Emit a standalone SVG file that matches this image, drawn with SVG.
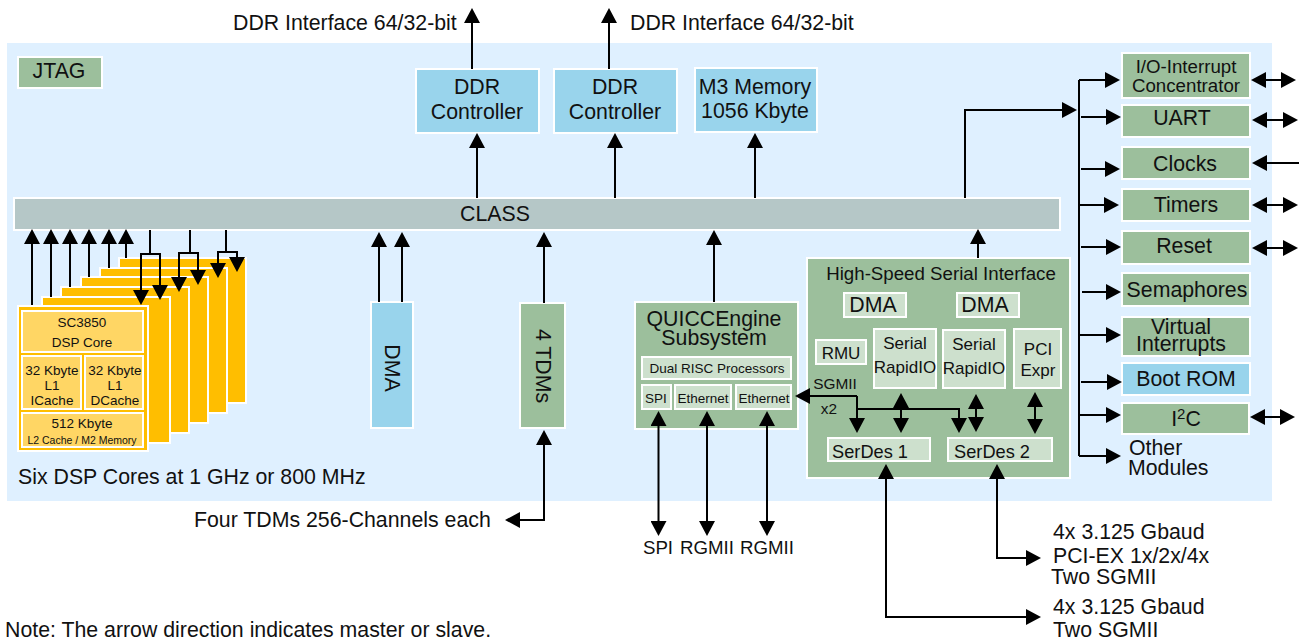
<svg xmlns="http://www.w3.org/2000/svg" width="1305" height="644" viewBox="0 0 1305 644">
<style>
text{font-family:"Liberation Sans",Arial,sans-serif;fill:#111;text-anchor:middle}
.l{text-anchor:start}
.g{fill:#9CBF9C;stroke:#fff;stroke-width:2}
.lg{fill:#CDE0CD;stroke:#fff;stroke-width:2}
.b{fill:#99D4EC;stroke:#fff;stroke-width:2}
.o{fill:#FFBE00;stroke:#fff;stroke-width:2}
.y{fill:#FFD664;stroke:#fff;stroke-width:2}
.c path{fill:none;stroke:#000;stroke-width:2}
.a{marker-end:url(#h)}
.d{marker-start:url(#h);marker-end:url(#h)}
.s21{font-size:21.3px}.s19{font-size:18.7px}.s18{font-size:18.2px}.s17{font-size:17px}.s15{font-size:15.4px}.s13{font-size:13.5px}.s10{font-size:10.5px}
</style>
<defs>
<marker id="h" markerUnits="userSpaceOnUse" markerWidth="15" markerHeight="16" viewBox="0 0 15 16" refX="12" refY="8" orient="auto-start-reverse"><path d="M0 0L15 8L0 16Z" fill="#000"/></marker>
</defs>
<rect x="7" y="43" width="1265" height="458" fill="#DFF0FF"/>

<g id="jtag"><rect class="g" x="18" y="57" width="84" height="31"/><text class="s21" x="59" y="78">JTAG</text></g>
<g id="ddr1"><rect class="b" x="416" y="69" width="123" height="64"/><text class="s21" x="477" y="94">DDR</text><text class="s21" x="477" y="119">Controller</text></g>
<g id="ddr2"><rect class="b" x="554" y="69" width="123" height="64"/><text class="s21" x="615" y="94">DDR</text><text class="s21" x="615" y="119">Controller</text></g>
<g id="m3"><rect class="b" x="695" y="68" width="122" height="64"/><text class="s21" x="755" y="94">M3 Memory</text><text class="s21" x="755" y="118">1056 Kbyte</text></g>
<g id="class"><rect x="14" y="198" width="1046" height="32" fill="#B5C7C7" stroke="#fff" stroke-width="2"/><text class="s21" x="495" y="221">CLASS</text></g>

<g id="dsp-cores">
<rect class="o" x="119" y="258" width="127" height="145"/>
<rect class="o" x="100" y="268" width="127" height="145"/>
<rect class="o" x="81" y="277" width="127" height="146"/>
<rect class="o" x="61" y="287" width="128" height="146"/>
<rect class="o" x="42" y="297" width="128" height="146"/>
<rect class="o" x="18" y="306" width="130" height="145"/>
<rect class="y" x="22" y="311" width="121" height="41"/>
<text class="s13" x="82" y="327">SC3850</text><text class="s13" x="82" y="347">DSP Core</text>
<rect class="y" x="22" y="356" width="59" height="53"/>
<text class="s13" x="52" y="375">32 Kbyte</text><text class="s13" x="52" y="390">L1</text><text class="s13" x="52" y="405">ICache</text>
<rect class="y" x="85" y="356" width="58" height="53"/>
<text class="s13" x="115" y="375">32 Kbyte</text><text class="s13" x="115" y="390">L1</text><text class="s13" x="115" y="405">DCache</text>
<rect class="y" x="22" y="413" width="121" height="34"/>
<text class="s13" x="82" y="428">512 Kbyte</text><text class="s10" x="82" y="444">L2 Cache / M2 Memory</text>
</g>
<text class="l s21" x="18" y="484">Six DSP Cores at 1 GHz or 800 MHz</text>

<g id="dma"><rect class="b" x="371" y="302" width="42" height="126"/><text class="s21" transform="translate(392 368) rotate(90)" y="7">DMA</text></g>
<g id="tdms"><rect class="g" x="520" y="303" width="45" height="125"/><text class="s21" transform="translate(543 366) rotate(90)" y="7">4 TDMs</text></g>

<g id="quicc"><rect class="g" x="635" y="302" width="163" height="127"/>
<text class="s21" x="714" y="326">QUICCEngine</text><text class="s21" x="714" y="345">Subsystem</text>
<rect class="lg" x="642" y="357" width="149" height="22"/><text class="s13" x="717" y="373">Dual RISC Processors</text>
<rect class="lg" x="642" y="385" width="29" height="24"/><text class="s13" x="656" y="403">SPI</text>
<rect class="lg" x="675" y="385" width="56" height="24"/><text class="s13" x="703" y="403">Ethernet</text>
<rect class="lg" x="736" y="385" width="55" height="24"/><text class="s13" x="764" y="403">Ethernet</text>
</g>

<g id="hssi"><rect class="g" x="807" y="258" width="263" height="220"/>
<text class="s19" x="941" y="280">High-Speed Serial Interface</text>
<rect class="lg" x="844" y="293" width="62" height="24"/><text class="s21" x="873" y="312">DMA</text>
<rect class="lg" x="957" y="293" width="62" height="24"/><text class="s21" x="985" y="312">DMA</text>
<rect class="lg" x="816" y="340" width="50" height="24"/><text class="s17" x="841" y="359">RMU</text>
<rect class="lg" x="874" y="329" width="62" height="59"/><text class="s17" x="905" y="349">Serial</text><text class="s17" x="905" y="373">RapidIO</text>
<rect class="lg" x="943" y="330" width="62" height="58"/><text class="s17" x="974" y="350">Serial</text><text class="s17" x="974" y="374">RapidIO</text>
<rect class="lg" x="1014" y="329" width="47" height="59"/><text class="s17" x="1038" y="355">PCI</text><text class="s17" x="1038" y="376">Expr</text>
<rect class="lg" x="828" y="438" width="102" height="23"/><text class="s18" x="870" y="458">SerDes 1</text>
<rect class="lg" x="948" y="438" width="104" height="23"/><text class="s18" x="992" y="458">SerDes 2</text>
<text class="s15" x="835" y="389">SGMII</text><text class="s15" x="829" y="414">x2</text>
</g>

<g id="io-int"><rect class="g" x="1122" y="53" width="128" height="45"/><text class="s19" x="1186" y="73">I/O-Interrupt</text><text class="s19" x="1186" y="92">Concentrator</text></g>
<g id="uart"><rect class="g" x="1122" y="105" width="128" height="32"/><text class="s21" x="1182" y="125">UART</text></g>
<g id="clocks"><rect class="g" x="1122" y="147" width="128" height="32"/><text class="s21" x="1185" y="171">Clocks</text></g>
<g id="timers"><rect class="g" x="1122" y="189" width="128" height="32"/><text class="s21" x="1186" y="212">Timers</text></g>
<g id="reset"><rect class="g" x="1122" y="231" width="128" height="33"/><text class="s21" x="1184" y="253">Reset</text></g>
<g id="semaphores"><rect class="g" x="1122" y="273" width="128" height="33"/><text class="s21" x="1187" y="297">Semaphores</text></g>
<g id="virtual"><rect class="g" x="1122" y="317" width="128" height="39"/><text class="s21" x="1181" y="334">Virtual</text><text class="s21" x="1181" y="351">Interrupts</text></g>
<g id="boot"><rect class="b" x="1122" y="363" width="128" height="32"/><text class="s21" x="1186" y="386">Boot ROM</text></g>
<g id="i2c"><rect class="g" x="1122" y="403" width="127" height="31"/><text class="s21" x="1186" y="426">I<tspan font-size="15" dy="-7">2</tspan><tspan dy="7">C</tspan></text></g>
<text class="l s21" x="1129" y="455">Other</text><text class="l s21" x="1128" y="475">Modules</text>

<g id="connectors" class="c">
<path class="a" d="M472 69V11"/><path class="a" d="M609 69V11"/>
<path class="a" d="M477 198V136"/><path class="a" d="M615 198V136"/><path class="a" d="M755 198V136"/>
<path class="a" d="M32 305V232"/><path class="a" d="M51 297V232"/><path class="a" d="M70 287V232"/><path class="a" d="M89 277V232"/><path class="a" d="M109 268V232"/><path class="a" d="M126 258V232"/>
<path d="M150 230V254"/><path class="a" d="M141 254V302"/><path class="a" d="M160 254V297"/><path d="M140 254H161"/>
<path d="M190 230V253"/><path class="a" d="M179 253V289"/><path class="a" d="M198 253V282"/><path d="M178 253H199"/>
<path d="M226 230V252"/><path class="a" d="M218 252V275"/><path class="a" d="M237 252V269"/><path d="M217 252H238"/>
<path class="a" d="M379 302V235"/><path class="a" d="M402 302V235"/>
<path class="a" d="M544 303V235"/>
<path class="d" d="M508 520H544V433"/>
<path class="a" d="M714 302V233"/><path class="a" d="M978 258V232"/>
<path class="d" d="M658.500 414V533"/><path class="d" d="M707 414V533"/><path class="d" d="M767 414V533"/>
<path class="a" d="M857 396H798"/><path class="a" d="M857 396V430"/><path class="a" d="M857 409H959V430"/>
<path class="d" d="M901 396V430"/><path class="d" d="M976 397V429"/><path class="d" d="M1035 395V431"/>
<path class="d" d="M886 467V617H1038"/><path class="d" d="M997 467V558H1038"/>
<path class="a" d="M965 198V110H1074"/>
<path d="M1079 80V456"/>
<path class="a" d="M1079 80H1117"/><path class="a" d="M1081 117H1118"/><path class="a" d="M1081 169H1117"/><path class="a" d="M1079 205H1116"/><path class="a" d="M1081 247H1118"/><path class="a" d="M1082 292H1118"/><path class="a" d="M1079 335H1118"/><path class="a" d="M1081 382H1119"/><path class="a" d="M1079 415H1118"/><path class="a" d="M1079 456H1118"/>
<path class="d" d="M1254 80H1293"/><path class="d" d="M1255 120H1295"/><path class="a" d="M1299 163H1255"/><path class="d" d="M1255 205H1295"/><path class="d" d="M1255 248H1295"/><path class="d" d="M1253 417H1292"/>
</g>

<text class="l s21" x="233" y="30">DDR Interface 64/32-bit</text>
<text class="l s21" x="630" y="30">DDR Interface 64/32-bit</text>
<text class="l s21" x="194" y="527">Four TDMs 256-Channels each</text>
<text class="s19" x="658" y="554">SPI</text><text class="s19" x="707" y="554">RGMII</text><text class="s19" x="767" y="554">RGMII</text>
<text class="l s21" x="1053" y="539">4x 3.125 Gbaud</text><text class="l s21" x="1053" y="563">PCI-EX 1x/2x/4x</text><text class="l s21" x="1051" y="584">Two SGMII</text>
<text class="l s21" x="1053" y="614">4x 3.125 Gbaud</text><text class="l s21" x="1053" y="637">Two SGMII</text>
<text class="l s21" x="5" y="637">Note: The arrow direction indicates master or slave.</text>
</svg>
